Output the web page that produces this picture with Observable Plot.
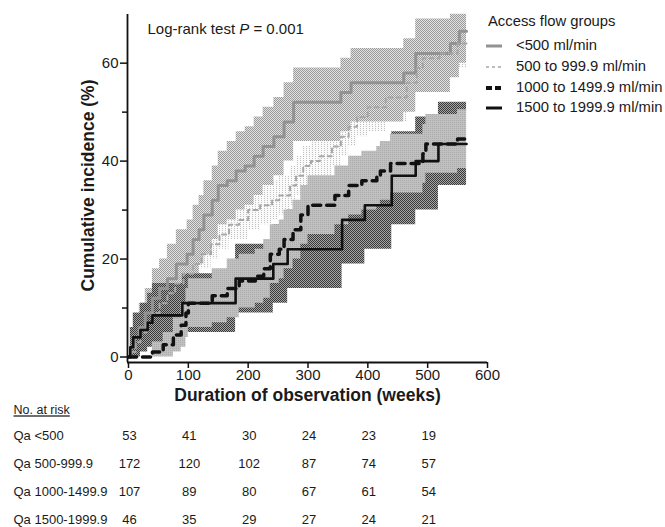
<!DOCTYPE html>
<html><head><meta charset="utf-8">
<script src="https://cdn.jsdelivr.net/npm/d3@7"></script>
<script src="https://cdn.jsdelivr.net/npm/@observablehq/plot@0.6"></script>
<style>
html,body{margin:0;padding:0;background:#fff;overflow:hidden;}
#wrap{position:relative;width:665px;height:527px;font-family:Arial,"Liberation Sans",sans-serif;color:#1a1a1a;}
#main{position:absolute;left:0;top:0;}
#table{position:absolute;left:0;top:394px;}
#legend{position:absolute;left:0;top:0;width:665px;height:130px;pointer-events:none;}
.lg{position:absolute;font-size:14.8px;line-height:15px;white-space:nowrap;}
.sw{position:absolute;}
</style></head>
<body><div id="wrap"><div id="main"></div><div id="table"></div><div id="legend"></div></div>
<script>
// ---------- data ----------
const groupNames = ["<500 ml/min", "500 to 999.9 ml/min", "1000 to 1499.9 ml/min", "1500 to 1999.9 ml/min"];
const legendTitle = "Access flow groups";
const endWeek = 565;

// <500 ml/min
const tA  = [0, 4, 10, 18, 28, 40, 52, 65, 80, 98, 108, 118, 126, 140, 150, 165, 180, 195, 210, 225, 243, 260, 276, 355, 372, 460, 480, 538, 553];
const vA  = [0, 2, 4, 6, 9, 12, 14, 16, 19, 21, 24, 26, 29, 32, 35, 36, 38, 39, 41, 43, 45, 48, 52, 54, 56, 58, 62, 64, 66.5];
const loA = [0, 0, 1, 2, 4, 6, 8, 10, 12, 14, 17, 19, 21, 24, 27, 28, 30, 31, 33, 35, 37, 40, 44, 46, 48, 50, 54, 57, 60];
const hiA = [0, 6, 8, 11, 14, 18, 20, 23, 26, 28, 31, 33, 36, 39, 42, 44, 46, 47, 49, 51, 53, 56, 59, 61, 63, 65, 69, 70, 70];

// 500 to 999.9 ml/min
const tB  = [0, 6, 12, 20, 30, 40, 52, 65, 78, 92, 108, 122, 138, 152, 168, 185, 200, 220, 240, 252, 270, 280, 292, 305, 320, 340, 355, 368, 382, 400, 430, 465, 482, 492, 520, 550];
const vB  = [0, 1, 3, 5, 7, 9, 11, 13, 15, 17, 19, 21, 23, 25, 27, 28, 30, 31, 32, 33, 35, 37, 39, 40, 41, 43, 45, 47, 49, 51, 53, 56, 59, 61, 62, 64];
const loB = [0, 0, 1, 3, 4, 6, 8, 10, 12, 14, 16, 18, 20, 22, 24, 24, 26, 27, 28, 29, 31, 33, 35, 36, 37, 39, 41, 43, 45, 46, 48, 51, 54, 56, 57, 59];
const hiB = [0, 2, 5, 7, 10, 12, 14, 16, 18, 20, 22, 24, 26, 28, 30, 32, 34, 35, 36, 37, 39, 41, 43, 44, 45, 47, 49, 51, 53, 56, 58, 61, 64, 66, 67, 69];

// 1000 to 1499.9 ml/min
const tC  = [0, 40, 58, 75, 88, 96, 100, 140, 165, 185, 212, 226, 237, 252, 260, 275, 288, 300, 345, 368, 390, 415, 421, 438, 492, 497, 550];
const vC  = [0, 1, 2.5, 4.5, 6.5, 9, 11, 12.5, 14, 15.5, 16.5, 18, 21, 22, 24, 26, 29, 31, 33, 35, 36, 37, 38, 39.5, 41.5, 43.5, 44.5];
const loC = [0, 0, 0, 1, 2, 4, 6, 7, 8, 10, 11, 12, 15, 16, 18, 20, 23, 25, 27, 29, 30, 31, 32, 33.5, 35.5, 37.5, 38.5];
const hiC = [0, 3, 5, 8, 11, 14, 16, 18, 20, 21, 22, 24, 27, 28, 30, 32, 35, 37, 39, 41, 42, 43, 44, 45.5, 47.5, 49.5, 50.5];

// 1500 to 1999.9 ml/min
const tD  = [0, 3, 8, 20, 32, 40, 90, 179, 242, 266, 357, 395, 440, 480, 518];
const vD  = [0, 2, 4, 5.5, 7, 8.5, 11, 16, 19, 22, 28, 31, 37, 40, 43.5];
const loD = [0, 0, 0, 1, 2, 3, 5, 9, 11, 14, 19, 22, 27, 30, 35];
const hiD = [0, 6, 9, 11, 13, 15, 17, 23, 27, 30, 36, 40, 46, 49, 52];

const xTicks = [0, 100, 200, 300, 400, 500, 600];
const yTicks = [0, 20, 40, 60];
const yMinorTicks = [10, 30, 50];
const xLabel = "Duration of observation (weeks)";
const yLabel = "Cumulative incidence (%)";
const testLabel = "Log-rank test P = 0.001";

// number at risk table
const riskHeader = "No. at risk";
const riskRows = ["Qa <500", "Qa 500-999.9", "Qa 1000-1499.9", "Qa 1500-1999.9"];
const riskWeeks = [0, 100, 200, 300, 400, 500];
const riskA = [53, 41, 30, 24, 23, 19];
const riskB = [172, 120, 102, 87, 74, 57];
const riskC = [107, 89, 80, 67, 61, 54];
const riskD = [46, 35, 29, 27, 24, 21];

// ---------- build ----------
function series(t, v, lo, hi) {
  const rows = t.map((d, i) => ({t: d, v: v[i], lo: lo[i], hi: hi[i]}));
  const last = rows[rows.length - 1];
  rows.push({t: endWeek, v: last.v, lo: last.lo, hi: last.hi});
  return rows;
}
const A = series(tA, vA, loA, hiA);
const B = series(tB, vB, loB, hiB);
const C = series(tC, vC, loC, hiC);
const D = series(tD, vD, loD, hiD);

const SVGNS = "http://www.w3.org/2000/svg";
function defsMark() {
  const d = document.createElementNS(SVGNS, "defs");
  d.innerHTML = `
  <pattern id="pA" width="2" height="2" patternUnits="userSpaceOnUse">
    <rect width="2" height="2" fill="#e2e2e2"/><rect width="1" height="1" fill="#9a9a9a"/><rect x="1" y="1" width="1" height="1" fill="#9a9a9a"/>
  </pattern>
  <pattern id="pB" width="3" height="2" patternUnits="userSpaceOnUse">
    <rect width="3" height="2" fill="#fafafa"/><rect width="1" height="1" fill="#c0c0c0"/>
  </pattern>
  <pattern id="pC" width="2" height="2" patternUnits="userSpaceOnUse">
    <rect width="2" height="2" fill="#c0c0c0"/><rect width="1" height="1" fill="#ababab"/>
  </pattern>
  <pattern id="pD" width="2" height="2" patternUnits="userSpaceOnUse">
    <rect width="2" height="2" fill="#a6a6a6"/><rect width="1" height="1" fill="#383838"/><rect x="1" y="1" width="1" height="1" fill="#383838"/>
  </pattern>`;
  return d;
}

const W = 665, H = 412;
const main = Plot.plot({
  width: W, height: H,
  marginLeft: 127, marginRight: 178, marginTop: 14, marginBottom: H - 362,
  style: {fontFamily: 'Arial, "Liberation Sans", sans-serif', fontSize: "15px", color: "#1a1a1a", background: "#fff"},
  x: {domain: [0, 600], range: [128, 487]},
  y: {domain: [0, 70], range: [356.5, 13.7]},
  marks: [
    defsMark,
    Plot.areaY(B, {x: "t", y1: "lo", y2: "hi", curve: "step-after", fill: "url(#pB)"}),
    Plot.areaY(A, {x: "t", y1: "lo", y2: "hi", curve: "step-after", fill: "url(#pA)"}),
    Plot.areaY(D, {x: "t", y1: "lo", y2: "hi", curve: "step-after", fill: "url(#pD)"}),
    Plot.areaY(C, {x: "t", y1: "lo", y2: "hi", curve: "step-after", fill: "url(#pC)"}),
    Plot.line(A, {x: "t", y: "v", curve: "step-after", stroke: "#929292", strokeWidth: 3}),
    Plot.line(B, {x: "t", y: "v", curve: "step-after", stroke: "#a6a6a6", strokeWidth: 2, strokeDasharray: "4,4"}),
    Plot.line(D, {x: "t", y: "v", curve: "step-after", stroke: "#111", strokeWidth: 2.6}),
    Plot.line(C, {x: "t", y: "v", curve: "step-after", stroke: "#111", strokeWidth: 3.5, strokeDasharray: "8,6"}),
    Plot.ruleY([0], {dy: 5.5, stroke: "#111", strokeWidth: 1.8}),
    Plot.ruleX([0], {dx: -1, stroke: "#111", strokeWidth: 1.8}),
    Plot.axisX({ticks: xTicks, tickSize: 6, tickPadding: 1, label: null, stroke: "#111", strokeWidth: 1.5, fontSize: 15}),
    Plot.axisY({ticks: yTicks, tickSize: 7, tickPadding: 2, label: null, stroke: "#111", strokeWidth: 1.5, fontSize: 15}),
    Plot.axisY({ticks: yMinorTicks, tickSize: 5, tickFormat: () => "", label: null, stroke: "#111", strokeWidth: 1.5}),
    Plot.text([yLabel], {text: d => d, frameAnchor: "left", textAnchor: "middle", rotate: -90, dx: -39, dy: -3, fontWeight: "bold", fontSize: 17.5, fill: "#1a1a1a"}),
    Plot.text([xLabel], {text: d => d, frameAnchor: "bottom", dy: 38, fontWeight: "bold", fontSize: 17.5, fill: "#1a1a1a"}),
    Plot.text([testLabel], {text: d => d, frameAnchor: "top-left", textAnchor: "start", dx: 20, dy: 9, fontSize: 15, fill: "#1a1a1a"})
  ]
});
for (const t of main.querySelectorAll("text")) {
  if (t.textContent === testLabel) {
    t.innerHTML = 'Log-rank test <tspan font-style="italic">P</tspan> = 0.001';
  }
}
document.getElementById("main").appendChild(main);

// number at risk table
const riskSets = [riskA, riskB, riskC, riskD];
const riskTable = [];
riskRows.forEach((r, i) => riskWeeks.forEach((w, j) => riskTable.push({row: r, week: w, n: riskSets[i][j]})));
const table = Plot.plot({
  width: W, height: 133,
  marginLeft: 0, marginRight: 0, marginTop: 0, marginBottom: 0,
  style: {fontFamily: 'Arial, "Liberation Sans", sans-serif', fontSize: "13px", color: "#1a1a1a", background: "transparent", overflow: "visible"},
  x: {domain: [0, 600], range: [129, 488], axis: null},
  y: {type: "point", domain: riskRows, range: [41, 125], padding: 0, axis: null},
  marks: [
    Plot.text(riskTable, {x: "week", y: "row", text: "n", fontSize: 13, fill: "#1a1a1a"}),
    Plot.text(riskRows, {y: d => d, text: d => d, frameAnchor: "left", textAnchor: "start", dx: 13, fontSize: 13, fill: "#1a1a1a"}),
    Plot.text([riskHeader], {text: d => d, frameAnchor: "top-left", textAnchor: "start", dx: 13, dy: 11, fontSize: 12.5, fill: "#1a1a1a"})
  ]
});
for (const t of table.querySelectorAll("text")) {
  if (t.textContent === riskHeader) t.setAttribute("text-decoration", "underline");
}
document.getElementById("table").appendChild(table);

// legend
const legend = document.getElementById("legend");
const swatches = [
  {stroke: "#929292", width: 3, dash: ""},
  {stroke: "#a6a6a6", width: 1.6, dash: "3,3"},
  {stroke: "#111", width: 4, dash: "6,3"},
  {stroke: "#111", width: 3, dash: ""}
];
const rowY = [46, 67, 88, 108];
const title = document.createElement("div");
title.className = "lg"; title.textContent = legendTitle;
title.style.left = "488px"; title.style.top = (22 - 8) + "px";
legend.appendChild(title);
groupNames.forEach((g, i) => {
  const s = swatches[i];
  const sv = document.createElementNS(SVGNS, "svg");
  sv.setAttribute("width", 16); sv.setAttribute("height", 8);
  sv.setAttribute("class", "sw");
  sv.style.left = "486px"; sv.style.top = (rowY[i] - 4) + "px";
  const ln = document.createElementNS(SVGNS, "line");
  ln.setAttribute("x1", 0); ln.setAttribute("x2", 16); ln.setAttribute("y1", 4); ln.setAttribute("y2", 4);
  ln.setAttribute("stroke", s.stroke); ln.setAttribute("stroke-width", s.width);
  if (s.dash) ln.setAttribute("stroke-dasharray", s.dash);
  sv.appendChild(ln);
  legend.appendChild(sv);
  const tx = document.createElement("div");
  tx.className = "lg"; tx.textContent = g;
  tx.style.left = "516px"; tx.style.top = (rowY[i] - 8) + "px";
  legend.appendChild(tx);
});
</script>
</body></html>
